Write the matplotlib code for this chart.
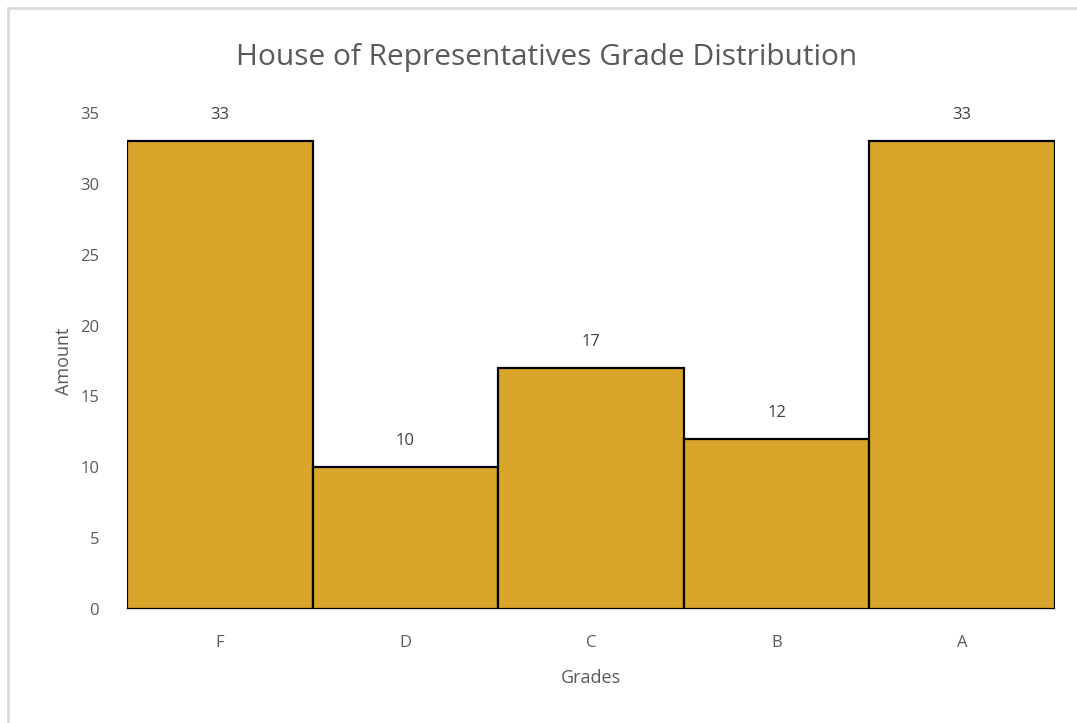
import matplotlib
matplotlib.use("Agg")
import matplotlib.pyplot as plt
from matplotlib.patches import Rectangle

grades = ["F", "D", "C", "B", "A"]
amounts = [33, 10, 17, 12, 33]
yticks = [0, 5, 10, 15, 20, 25, 30, 35]

plt.rcParams['font.family'] = ['Open Sans', 'DejaVu Sans']
W, H = 1077, 723
fig = plt.figure(figsize=(W/100, H/100), dpi=100)
ax = fig.add_axes([127/W, 1-609/H, (1055-127)/W, (609-113)/H])

gray = "#595959"
x = list(range(len(grades)))
bars = ax.bar(x, amounts, width=1.0, color="#DAA52B", edgecolor="black", linewidth=1.6, zorder=3)
for xi, v in zip(x, amounts):
    ax.annotate(str(v), (xi, v), xytext=(0, 19), textcoords="offset points",
                ha="center", va="center", fontsize=12, color="#404040")

ax.set_xlim(-0.5, len(grades)-0.5)
ax.set_ylim(0, 35)
ax.set_yticks(yticks)
ax.set_xticks(x)
ax.set_xticklabels(grades)
ax.tick_params(axis="both", length=0, colors=gray, labelsize=12)
ax.tick_params(axis="y", pad=20)
ax.tick_params(axis="x", pad=19)
for s in ["top", "right", "left"]:
    ax.spines[s].set_visible(False)
ax.spines["bottom"].set_color("#D9D9D9")
ax.spines["bottom"].set_linewidth(1.5)

ax.set_xlabel("Grades", fontsize=13, color=gray, labelpad=13)
ax.set_ylabel("Amount", fontsize=13, color=gray, labelpad=5)
fig.text(547/W, 1-57/H, "House of Representatives Grade Distribution", ha="center", va="center",
         fontsize=21.5, color=gray)

fig.patches.append(Rectangle((8/W, -0.1), 1.2, 1-8/H+0.1, transform=fig.transFigure,
                             fill=False, edgecolor="#D9D9D9", linewidth=2, zorder=0))

fig.savefig("out.png", dpi=100)
